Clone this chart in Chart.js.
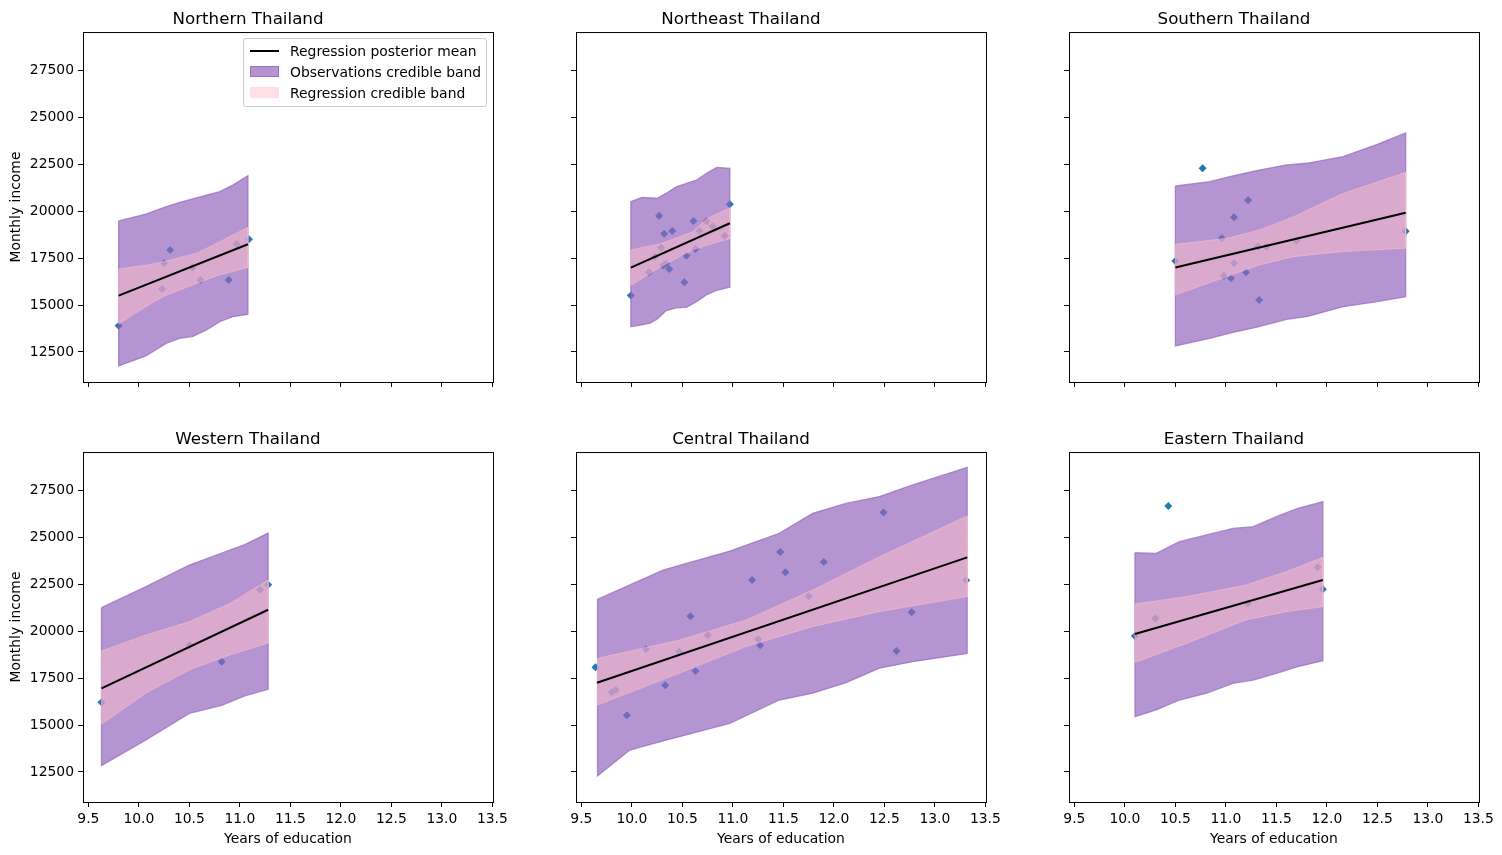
<!DOCTYPE html>
<html>
<head>
<meta charset="utf-8">
<script src="https://cdn.jsdelivr.net/npm/chart.js@4.4.1/dist/chart.umd.min.js"></script>
<style>
  body { margin: 0; background: #fff; width: 1502px; height: 855px; overflow: hidden; position: relative; font-family: "DejaVu Sans", sans-serif; }
  canvas { position: absolute; }
  .legend { position: absolute; left: 243px; top: 38px; width: 244px; height: 69px; box-sizing: border-box;
            border: 1px solid #cccccc; border-radius: 3px; background: rgba(255,255,255,0.8); font-size: 13.9px; color: #000; }
  .legend div { position: absolute; left: 46px; white-space: nowrap; line-height: 16px; }
  .legend span { position: absolute; left: -40px; width: 29px; }
</style>
</head>
<body>
<div id="plots"></div>
<div class="legend">
  <div style="top: 4px"><span style="top: 7px; height: 2px; background: #000"></span>Regression posterior mean</div>
  <div style="top: 25px"><span style="top: 2px; height: 11px; background: rgba(148,103,189,0.7); border: 1px solid rgba(148,103,189,0.8); box-sizing: border-box"></span>Observations credible band</div>
  <div style="top: 46px"><span style="top: 2px; height: 11px; background: rgba(255,192,203,0.5)"></span>Regression credible band</div>
</div>
<script>
// Axis ticks and ranges
const xTicks = [9.5, 10.0, 10.5, 11.0, 11.5, 12.0, 12.5, 13.0, 13.5];
const yTicks = [12500, 15000, 17500, 20000, 22500, 25000, 27500];
const xRange = [9.447, 13.506];
const yRange = [10904, 29521];

const regionNames = ['Northern Thailand', 'Northeast Thailand', 'Southern Thailand',
                     'Western Thailand', 'Central Thailand', 'Eastern Thailand'];

// Northern
const northX = [9.80, 10.23, 10.25, 10.31, 10.53, 10.61, 10.89, 10.97, 11.09];
const northY = [13900, 15850, 17220, 17930, 17000, 16330, 16330, 18250, 18500];
const northLineX = [9.80, 11.08];
const northLineY = [15500, 18230];
const northObsX = [9.80, 10.07, 10.27, 10.40, 10.53, 10.67, 10.80, 10.93, 11.08];
const northObsUp = [19470, 19840, 20230, 20450, 20640, 20850, 21030, 21380, 21880];
const northObsLow = [11760, 12290, 12960, 13230, 13320, 13670, 14110, 14380, 14500];
const northRegX = [9.80, 10.07, 10.24, 10.57, 10.80, 11.08];
const northRegUp = [16920, 17120, 17300, 17750, 18370, 19130];
const northRegLow = [13990, 14910, 15440, 16150, 16600, 17000];

// Northeast
const neX = [9.99, 10.17, 10.23, 10.27, 10.29, 10.31, 10.34, 10.32, 10.37, 10.40, 10.52,
             10.54, 10.61, 10.63, 10.67, 10.74, 10.80, 10.92, 10.97];
const neY = [15500, 16740, 17570, 19750, 18050, 17100, 17200, 18790, 16920, 18940, 16210,
             17620, 19470, 17980, 18940, 19450, 19170, 18690, 20360];
const neLineX = [9.99, 10.97];
const neLineY = [16990, 19350];
const neObsX = [9.99, 10.10, 10.18, 10.25, 10.34, 10.44, 10.54, 10.64, 10.74, 10.84, 10.97];
const neObsUp = [20500, 20730, 20700, 20680, 20940, 21290, 21470, 21650, 22000, 22320, 22270];
const neObsLow = [13850, 13950, 14030, 14250, 14700, 14850, 14880, 15170, 15550, 15780, 15940];
const neRegX = [9.99, 10.30, 10.60, 10.75, 10.97];
const neRegUp = [17930, 18280, 18900, 19610, 20170];
const neRegLow = [16040, 17080, 17930, 18190, 18520];

// Southern
const southX = [10.50, 10.77, 10.96, 10.98, 11.05, 11.08, 11.08, 11.20, 11.22, 11.32, 11.33, 11.40, 11.70, 12.78];
const southY = [17340, 22270, 18550, 16560, 16420, 19670, 17220, 16740, 20570, 18100, 15270, 18100, 18420, 18920];
const southLineX = [10.50, 12.78];
const southLineY = [17000, 19910];
const southObsX = [10.50, 10.84, 11.06, 11.33, 11.60, 11.80, 12.16, 12.50, 12.78];
const southObsUp = [21330, 21560, 21860, 22180, 22450, 22540, 22890, 23550, 24150];
const southObsLow = [12820, 13230, 13530, 13850, 14240, 14380, 14910, 15180, 15440];
const southRegX = [10.50, 11.01, 11.33, 11.67, 12.16, 12.78];
const southRegUp = [18230, 18550, 18990, 19700, 20940, 22060];
const southRegLow = [15530, 16510, 17130, 17570, 17840, 18020];

// Western
const westX = [9.63, 10.50, 10.82, 11.20, 11.28];
const westY = [16210, 19260, 18370, 22190, 22460];
const westLineX = [9.63, 11.28];
const westLineY = [16950, 21130];
const westObsX = [9.63, 10.07, 10.50, 10.82, 11.05, 11.28];
const westObsUp = [21240, 22360, 23510, 24150, 24600, 25210];
const westObsLow = [12840, 14200, 15620, 16050, 16550, 16900];
const westRegX = [9.63, 10.07, 10.50, 10.90, 11.28];
const westRegUp = [18940, 19790, 20500, 21470, 22710];
const westRegLow = [15040, 16690, 17930, 18720, 19350];

// Central
const centX = [9.64, 9.80, 9.84, 9.95, 10.14, 10.33, 10.47, 10.58, 10.63, 10.75, 11.19,
               11.25, 11.27, 11.47, 11.52, 11.75, 11.90, 12.49, 12.62, 12.77, 13.31];
const centY = [18070, 16740, 16860, 15520, 19030, 17110, 18900, 20780, 17870, 19790, 22710,
               19560, 19240, 24210, 23120, 21850, 23670, 26310, 18940, 21000, 22700];
const centLineX = [9.655, 13.32];
const centLineY = [17250, 23920];
const centObsX = [9.66, 9.98, 10.31, 10.47, 10.97, 11.46, 11.79, 12.12, 12.45, 12.78, 13.32];
const centObsUp = [21690, 22450, 23245, 23490, 24250, 25200, 26260, 26790, 27150, 27770, 28710];
const centObsLow = [12290, 13670, 14150, 14380, 15090, 16330, 16690, 17250, 18020, 18370, 18810];
const centRegX = [9.66, 10.47, 11.13, 11.79, 12.45, 13.32];
const centRegUp = [18550, 19520, 20590, 22180, 23950, 26120];
const centRegLow = [16060, 17750, 19170, 20230, 21030, 21830];

// Eastern
const eastX = [10.10, 10.30, 10.43, 11.22, 11.91, 11.96];
const eastY = [19730, 20670, 26650, 21470, 23390, 22220];
const eastLineX = [10.10, 11.96];
const eastLineY = [19840, 22710];
const eastObsX = [10.10, 10.31, 10.54, 10.81, 11.07, 11.27, 11.50, 11.71, 11.96];
const eastObsUp = [24170, 24130, 24750, 25110, 25460, 25550, 26080, 26520, 26880];
const eastObsLow = [15440, 15800, 16330, 16690, 17220, 17390, 17750, 18100, 18420];
const eastRegX = [10.10, 10.61, 11.20, 11.60, 11.96];
const eastRegUp = [21440, 21830, 22450, 23160, 23920];
const eastRegLow = [18320, 19340, 20590, 21030, 21290];

const panels = [
    { pts: [northX, northY], line: [northLineX, northLineY], obs: [northObsX, northObsUp, northObsLow], reg: [northRegX, northRegUp, northRegLow] },
    { pts: [neX, neY], line: [neLineX, neLineY], obs: [neObsX, neObsUp, neObsLow], reg: [neRegX, neRegUp, neRegLow] },
    { pts: [southX, southY], line: [southLineX, southLineY], obs: [southObsX, southObsUp, southObsLow], reg: [southRegX, southRegUp, southRegLow] },
    { pts: [westX, westY], line: [westLineX, westLineY], obs: [westObsX, westObsUp, westObsLow], reg: [westRegX, westRegUp, westRegLow] },
    { pts: [centX, centY], line: [centLineX, centLineY], obs: [centObsX, centObsUp, centObsLow], reg: [centRegX, centRegUp, centRegLow] },
    { pts: [eastX, eastY], line: [eastLineX, eastLineY], obs: [eastObsX, eastObsUp, eastObsLow], reg: [eastRegX, eastRegUp, eastRegLow] }
];

const zip = (xs, ys) => xs.map((x, i) => ({ x, y: ys[i] }));
// closed outline: upper edge left->right, lower edge right->left
const outline = (xs, up, low) => [...zip(xs, up), ...zip(xs, low).reverse(), { x: xs[0], y: up[0] }];

// top and right spines (bottom/left come from the axis borders)
const frame = {
    id: 'frame',
    afterDraw(chart) {
        const { ctx, chartArea: a } = chart;
        ctx.save();
        ctx.strokeStyle = '#000';
        ctx.lineWidth = 1;
        ctx.strokeRect(a.left + 0.5, a.top + 0.5, a.right - a.left, a.bottom - a.top);
        ctx.restore();
    }
};

const font = { family: '"DejaVu Sans", sans-serif', size: 13.9 };

panels.forEach((p, i) => {
    const col = i % 3, row = Math.floor(i / 3);
    const canvas = document.createElement('canvas');
    canvas.width = 510;
    canvas.height = 430;
    canvas.style.left = (3 + col * 493) + 'px';
    canvas.style.top = (2 + row * 420) + 'px';
    document.getElementById('plots').appendChild(canvas);

    new Chart(canvas.getContext('2d'), {
        type: 'line',
        data: {
            datasets: [
                {
                    data: zip(p.line[0], p.line[1]),
                    borderColor: '#000', borderWidth: 2, pointRadius: 0, fill: false, order: 1
                },
                {
                    data: outline(...p.reg),
                    borderColor: 'rgba(255,192,203,0.5)', backgroundColor: 'rgba(255,192,203,0.5)',
                    borderWidth: 1, pointRadius: 0, fill: 'shape', tension: 0, order: 2
                },
                {
                    data: outline(...p.obs),
                    borderColor: 'rgba(148,103,189,0.7)', backgroundColor: 'rgba(148,103,189,0.7)',
                    borderWidth: 1.3, pointRadius: 0, fill: 'shape', tension: 0, order: 3
                },
                {
                    data: zip(p.pts[0], p.pts[1]),
                    showLine: false, pointStyle: 'rectRot', pointRadius: 4,
                    backgroundColor: '#1f77b4', borderWidth: 0, order: 4
                }
            ]
        },
        options: {
            responsive: false,
            animation: false,
            events: [],
            layout: { padding: { left: 0, right: 20, top: 0, bottom: 0 } },
            plugins: {
                legend: { display: false },
                tooltip: { enabled: false },
                title: {
                    display: true,
                    text: regionNames[i],
                    color: '#000',
                    font: { family: font.family, size: 16.7, weight: 'normal', lineHeight: 1.2 },
                    padding: { top: 8, bottom: 2 }
                }
            },
            scales: {
                x: {
                    type: 'linear',
                    min: xRange[0], max: xRange[1],
                    afterBuildTicks: s => { s.ticks = xTicks.map(v => ({ value: v })); },
                    afterFit: s => { s.height = 50; },
                    ticks: {
                        color: '#000', font, padding: 4, maxRotation: 0,
                        callback: v => row === 1 ? v.toFixed(1) : ''
                    },
                    grid: { drawOnChartArea: false, drawTicks: true, tickLength: 5, tickColor: '#000', tickWidth: 1 },
                    border: { display: true, color: '#000', width: 1 },
                    title: {
                        display: row === 1, text: 'Years of education', color: '#000', font,
                        padding: { top: 0, bottom: 4 }
                    }
                },
                y: {
                    type: 'linear',
                    min: yRange[0], max: yRange[1],
                    afterBuildTicks: s => { s.ticks = yTicks.map(v => ({ value: v })); },
                    afterFit: s => { s.width = 80; },
                    ticks: {
                        color: '#000', font, padding: 4,
                        callback: v => col === 0 ? String(v) : ''
                    },
                    grid: { drawOnChartArea: false, drawTicks: true, tickLength: 5, tickColor: '#000', tickWidth: 1 },
                    border: { display: true, color: '#000', width: 1 },
                    title: {
                        display: col === 0, text: 'Monthly income', color: '#000', font,
                        padding: { top: 5, bottom: 0 }
                    }
                }
            }
        },
        plugins: [frame]
    });
});
</script>
</body>
</html>
